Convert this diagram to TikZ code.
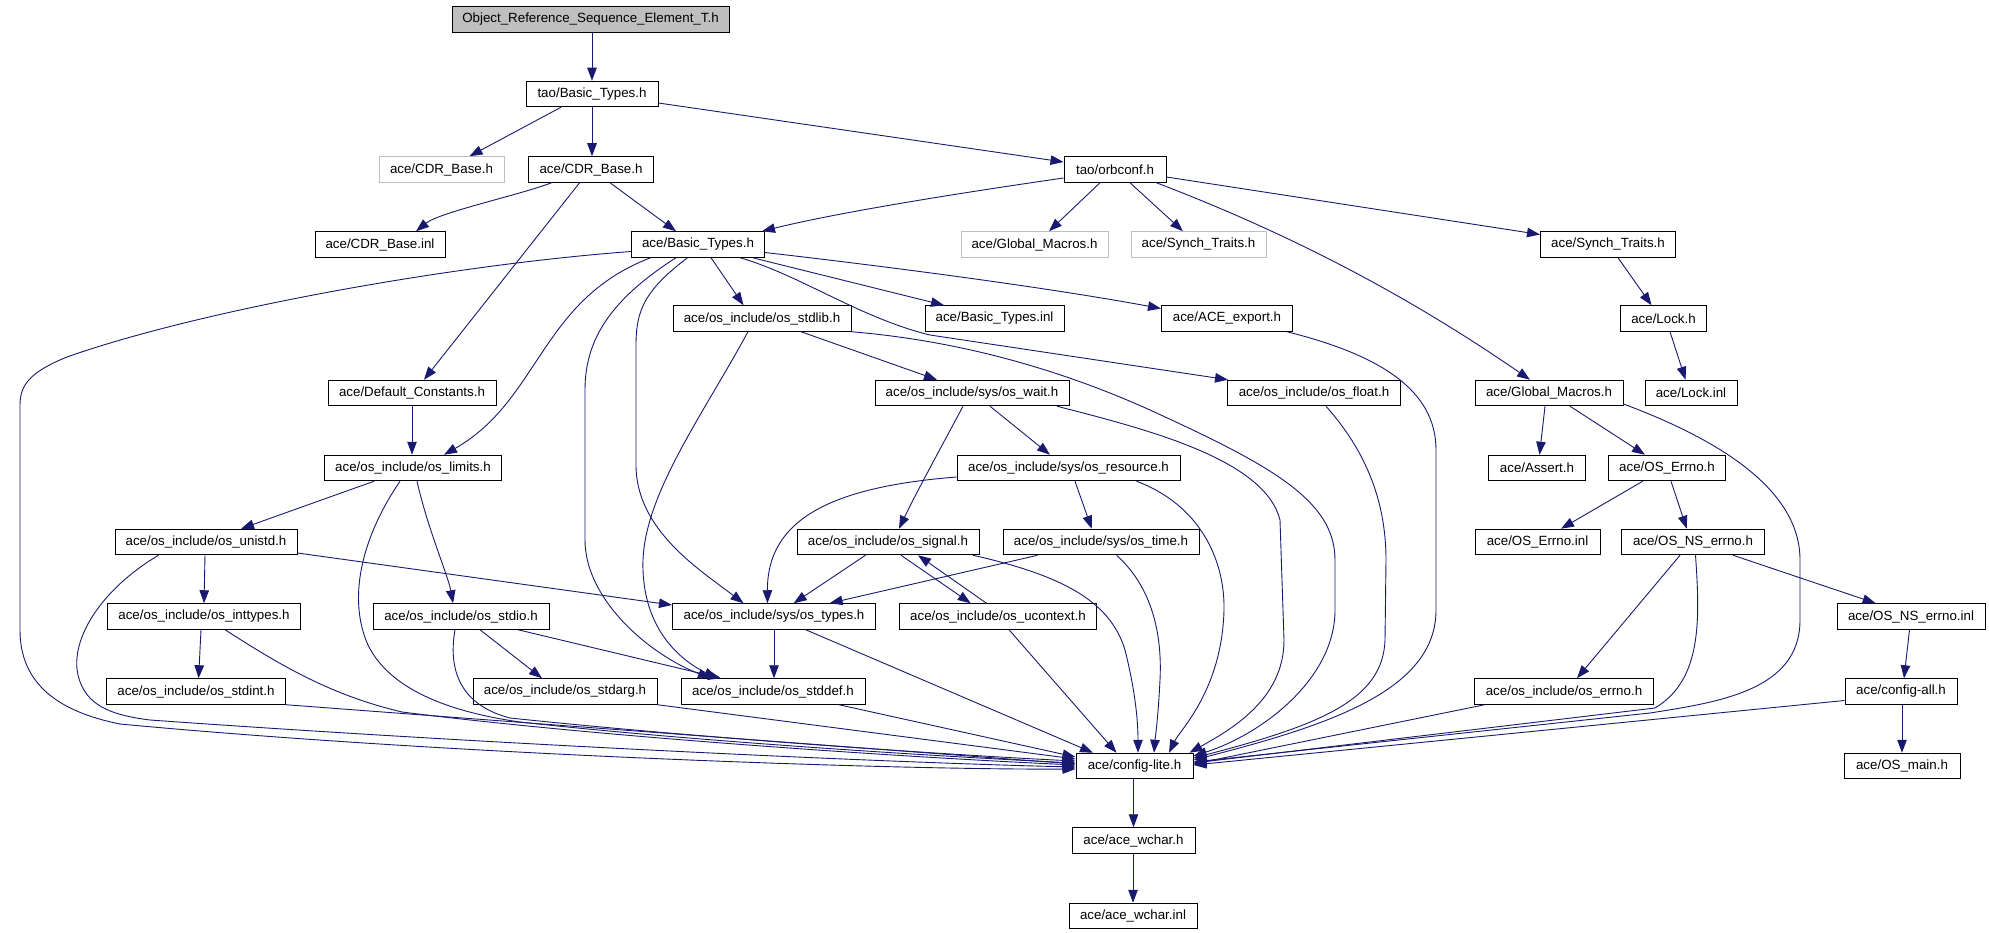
\documentclass[tikz,border=0pt]{standalone}
\usepackage{fontspec}
\setmainfont{Liberation Sans}
\usetikzlibrary{arrows.meta,calc}
\definecolor{edgecol}{HTML}{191970}
\definecolor{graybd}{HTML}{BFBFBF}
\begin{document}
\begin{tikzpicture}[x=1pt,y=-1pt,
  font=\fontsize{13.33}{16}\selectfont,
  box/.style={draw=black, line width=1pt, fill=white, minimum height=25.5pt, inner sep=0pt, anchor=center},
  gbox/.style={box, draw=graybd},
  rootbox/.style={box, fill=graybd},
  dep/.style={draw=edgecol, line width=0.9pt, -{Triangle[length=13pt,width=9.5pt]}}]
\fill[white] (0,0) rectangle (1989,933);
\useasboundingbox (0,0) rectangle (1989,933);
% nodes
\node[rootbox, minimum width=277pt] (obj) at (590.5,19.5) {Object\_Reference\_Sequence\_Element\_T.h};
\node[box, minimum width=132pt] (tbt) at (592,94) {tao/Basic\_Types.h};
\node[gbox, minimum width=125pt] (cdrg) at (441.5,169.5) {ace/CDR\_Base.h};
\node[box, minimum width=125pt] (cdr) at (591,169.5) {ace/CDR\_Base.h};
\node[box, minimum width=102pt] (orb) at (1115,169.5) {tao/orbconf.h};
\node[box, minimum width=130pt] (cdri) at (380,244.5) {ace/CDR\_Base.inl};
\node[box, minimum width=133pt] (abt) at (698,244.5) {ace/Basic\_Types.h};
\node[gbox, minimum width=147pt] (gmg) at (1034.5,244.5) {ace/Global\_Macros.h};
\node[gbox, minimum width=135pt] (stg) at (1198.5,244.5) {ace/Synch\_Traits.h};
\node[box, minimum width=135pt] (st) at (1608,244.5) {ace/Synch\_Traits.h};
\node[box, minimum width=178pt] (stdlib) at (762,318.5) {ace/os\_include/os\_stdlib.h};
\node[box, minimum width=139pt] (bti) at (994.5,318.5) {ace/Basic\_Types.inl};
\node[box, minimum width=131pt] (aex) at (1227,318.5) {ace/ACE\_export.h};
\node[box, minimum width=86pt] (lock) at (1663.5,318.5) {ace/Lock.h};
\node[box, minimum width=168pt] (defc) at (412,393) {ace/Default\_Constants.h};
\node[box, minimum width=194pt] (wait) at (972,393) {ace/os\_include/sys/os\_wait.h};
\node[box, minimum width=173pt] (flt) at (1314,393) {ace/os\_include/os\_float.h};
\node[box, minimum width=148pt] (gm) at (1549,393) {ace/Global\_Macros.h};
\node[box, minimum width=92pt] (locki) at (1691,393) {ace/Lock.inl};
\node[box, minimum width=177pt] (lim) at (413,468) {ace/os\_include/os\_limits.h};
\node[box, minimum width=223pt] (res) at (1068.5,468) {ace/os\_include/sys/os\_resource.h};
\node[box, minimum width=97pt] (assert) at (1537,468) {ace/Assert.h};
\node[box, minimum width=117pt] (errno) at (1667,468) {ace/OS\_Errno.h};
\node[box, minimum width=182pt] (unistd) at (206,542) {ace/os\_include/os\_unistd.h};
\node[box, minimum width=182pt] (sig) at (888,542) {ace/os\_include/os\_signal.h};
\node[box, minimum width=196pt] (time) at (1101,542) {ace/os\_include/sys/os\_time.h};
\node[box, minimum width=125pt] (errnoi) at (1537.5,542) {ace/OS\_Errno.inl};
\node[box, minimum width=143pt] (nserr) at (1693,542) {ace/OS\_NS\_errno.h};
\node[box, minimum width=193pt] (intt) at (204,616.5) {ace/os\_include/os\_inttypes.h};
\node[box, minimum width=176pt] (stdio) at (461,616.5) {ace/os\_include/os\_stdio.h};
\node[box, minimum width=203pt] (types) at (774,616.5) {ace/os\_include/sys/os\_types.h};
\node[box, minimum width=197pt] (uctx) at (998,616.5) {ace/os\_include/os\_ucontext.h};
\node[box, minimum width=148pt] (nsi) at (1911,616.5) {ace/OS\_NS\_errno.inl};
\node[box, minimum width=179pt] (stdint) at (196,691.5) {ace/os\_include/os\_stdint.h};
\node[box, minimum width=184pt] (stdarg) at (565,691.5) {ace/os\_include/os\_stdarg.h};
\node[box, minimum width=184pt] (stddef) at (773,691.5) {ace/os\_include/os\_stddef.h};
\node[box, minimum width=179pt] (oserr) at (1564,691.5) {ace/os\_include/os\_errno.h};
\node[box, minimum width=112pt] (call) at (1901,691.5) {ace/config-all.h};
\node[box, minimum width=117pt] (cl) at (1134.5,766) {ace/config-lite.h};
\node[box, minimum width=116pt] (osmain) at (1902,766) {ace/OS\_main.h};
\node[box, minimum width=123pt] (wch) at (1133.5,840.5) {ace/ace\_wchar.h};
\node[box, minimum width=128pt] (wchi) at (1133,916) {ace/ace\_wchar.inl};
% edges
\draw[dep] ([xshift=1.5pt]obj.south) -- (tbt.north);
\draw[dep] ([xshift=-31pt]tbt.south) -- ([xshift=28pt]cdrg.north);
\draw[dep] (tbt.south) -- ([xshift=1pt]cdr.north);
\draw[dep] ([yshift=-9pt]tbt.east) -- ([yshift=7.5pt]orb.west);
\draw[dep] ([xshift=-39.5pt]cdr.south) .. controls (520,195) and (440,212) .. ([xshift=36pt]cdri.north);
\draw[dep] ([xshift=19pt]cdr.south) -- ([xshift=-22pt]abt.north);
\draw[dep] ([xshift=-11.4pt]cdr.south) -- ([xshift=12pt]defc.north);
\draw[dep] ([yshift=-8.5pt]orb.west) .. controls (960,193) and (840,212) .. ([xshift=64pt]abt.north);
\draw[dep] ([xshift=-15pt]orb.south) -- ([xshift=14.5pt]gmg.north);
\draw[dep] ([xshift=15pt]orb.south) -- ([xshift=-15.5pt]stg.north);
\draw[dep] ([xshift=41.4pt]orb.south) .. controls (1280,230) and (1400,290) .. ([xshift=-19pt]gm.north);
\draw[dep] ([yshift=-7.5pt]orb.east) -- ([yshift=10pt]st.west);
\draw[dep] ([xshift=10pt]st.south) -- ([xshift=-12pt]lock.north);
\draw[dep] ([xshift=6.5pt]lock.south) -- ([xshift=-5.5pt]locki.north);
% ace/Basic_Types.h
\draw[dep] ([yshift=-7pt]abt.west) .. controls (450,265) and (200,310) .. (67,357) .. controls (30,372) and (20,385) .. (20,405) -- (20,630) .. controls (20,685) and (60,712) .. (120,724) .. controls (450,755) and (900,770) .. ([yshift=-3pt]cl.west);
\draw[dep] ([xshift=-47.4pt]abt.south) .. controls (540,300) and (540,400) .. ([xshift=31pt]lim.north);
\draw[dep] ([xshift=-22pt]abt.south) .. controls (610,300) and (585,340) .. (585,390) -- (585,540) .. controls (585,600) and (650,655) .. ([xshift=-62pt]stddef.north);
\draw[dep] ([xshift=-10.5pt]abt.south) .. controls (645,290) and (636,310) .. (636,345) -- (636,465) .. controls (636,530) and (700,570) .. ([xshift=-30.5pt]types.north);
\draw[dep] ([xshift=13pt]abt.south) -- ([xshift=-18.5pt]stdlib.north);
\draw[dep] ([xshift=42pt]abt.south) .. controls (800,275) and (860,318) .. (930,335) -- ([xshift=-86pt]flt.north);
\draw[dep] ([xshift=54.6pt]abt.south) -- ([xshift=-50.5pt]bti.north);
\draw[dep] ([yshift=-8pt]abt.east) .. controls (900,268) and (1050,288) .. ([yshift=10pt]aex.west);
% os_stdlib
\draw[dep] ([xshift=-14pt]stdlib.south) .. controls (700,420) and (640,500) .. (643,570) .. controls (645,630) and (680,660) .. ([xshift=-56pt]stddef.north);
\draw[dep] ([xshift=39pt]stdlib.south) -- ([xshift=-35pt]wait.north);
\draw[dep] (stdlib.south east) .. controls (950,340) and (1050,365) .. (1150,410) .. controls (1270,465) and (1335,500) .. (1335,560) -- (1335,610) .. controls (1335,680) and (1260,735) .. ([yshift=10pt]cl.east);
% defaults, wait, resource
\draw[dep] (defc.south) -- ([xshift=-1pt]lim.north);
\draw[dep] ([xshift=18pt]wait.south) -- ([xshift=-18.5pt]res.north);
\draw[dep] ([xshift=-9pt]wait.south) .. controls (945,440) and (915,495) .. ([xshift=11pt]sig.north);
\draw[dep] ([xshift=85pt]wait.south) .. controls (1150,430) and (1265,460) .. (1280,520) -- (1284,640) .. controls (1284,700) and (1230,730) .. ([xshift=55pt]cl.north);
\draw[dep] ([yshift=-9pt]res.west) .. controls (830,487) and (767,520) .. ([xshift=-6.5pt]types.north);
\draw[dep] ([xshift=6.5pt]res.south) -- ([xshift=-9.3pt]time.north);
\draw[dep] ([xshift=68pt]res.south) .. controls (1200,505) and (1225,560) .. (1224,610) .. controls (1222,690) and (1180,730) .. ([xshift=34.5pt]cl.north);
% os_limits
\draw[dep] ([xshift=-39pt]lim.south) -- ([xshift=35pt]unistd.north);
\draw[dep] ([xshift=4pt]lim.south) .. controls (428,530) and (448,575) .. ([xshift=-8pt]stdio.north);
\draw[dep] ([xshift=-13pt]lim.south) .. controls (360,540) and (348,600) .. (368,645) .. controls (390,690) and (450,712) .. (520,722) .. controls (700,742) and (950,757) .. ([yshift=3pt]cl.west);
% os_unistd, inttypes, stdint
\draw[dep] ([xshift=-1pt]unistd.south) -- (intt.north);
\draw[dep] ([yshift=-11pt]unistd.east) -- ([yshift=11.5pt]types.west);
\draw[dep] ([xshift=-47.5pt]unistd.south) .. controls (100,590) and (70,640) .. (78,675) .. controls (85,705) and (110,715) .. (150,720) .. controls (500,745) and (900,763) .. ([yshift=-1pt]cl.west);
\draw[dep] ([xshift=-3pt]intt.south) -- ([xshift=2.6pt]stdint.north);
\draw[dep] ([xshift=21pt]intt.south) .. controls (280,665) and (330,695) .. (402,712) .. controls (600,737) and (900,757) .. ([yshift=1pt]cl.west);
\draw[dep] (stdint.south east) -- ([yshift=2pt]cl.west);
% os_stdio, stdarg
\draw[dep] ([xshift=19pt]stdio.south) -- ([xshift=-23pt]stdarg.north);
\draw[dep] ([xshift=57pt]stdio.south) -- ([xshift=-52pt]stddef.north);
\draw[dep] ([xshift=-6pt]stdio.south) .. controls (448,670) and (460,705) .. (510,718) .. controls (700,738) and (950,755) .. ([yshift=5pt]cl.west);
\draw[dep] (stdarg.south east) -- ([yshift=7pt]cl.west);
% os_types, stddef
\draw[dep] (types.south) -- ([xshift=1pt]stddef.north);
\draw[dep] ([xshift=31.7pt]types.south) -- ([xshift=-41.5pt]cl.north);
\draw[dep] ([xshift=66pt]stddef.south) -- ([yshift=9pt]cl.west);
% os_signal, os_time, os_ucontext
\draw[dep] ([xshift=-22.5pt]sig.south) -- ([xshift=19.7pt]types.north);
\draw[dep] ([xshift=13pt]sig.south) -- ([xshift=-27.3pt]uctx.north);
\draw[dep] ([xshift=-11.5pt]uctx.north) -- ([xshift=30pt]sig.south);
\draw[dep] ([xshift=85pt]sig.south) .. controls (1060,575) and (1110,600) .. (1125,650) .. controls (1135,690) and (1138,720) .. ([xshift=3.5pt]cl.north);
\draw[dep] ([xshift=-63.4pt]time.south) -- ([xshift=55.6pt]types.north);
\draw[dep] ([xshift=15.6pt]time.south) .. controls (1155,590) and (1162,640) .. (1160,680) .. controls (1158,720) and (1155,740) .. ([xshift=19.5pt]cl.north);
\draw[dep] ([xshift=11pt]uctx.south) -- ([xshift=-18pt]cl.north);
% os_float, ACE_export
\draw[dep] ([xshift=12pt]flt.south) .. controls (1365,450) and (1386,500) .. (1386,560) -- (1385,640) .. controls (1383,700) and (1320,725) .. ([yshift=8pt]cl.east);
\draw[dep] ([xshift=60pt]aex.south) .. controls (1380,355) and (1436,390) .. (1436,450) -- (1436,610) .. controls (1436,690) and (1330,725) .. ([yshift=6pt]cl.east);
% Global_Macros and errno chain
\draw[dep] ([xshift=-4pt]gm.south) -- ([xshift=2.5pt]assert.north);
\draw[dep] ([xshift=21pt]gm.south) -- ([xshift=-22pt]errno.north);
\draw[dep] ([yshift=-11pt]gm.east) .. controls (1720,440) and (1800,490) .. (1800,560) -- (1800,620) .. controls (1800,690) and (1720,702) .. (1650,713) -- ([yshift=4pt]cl.east);
\draw[dep] ([xshift=-24.3pt]errno.south) -- ([xshift=23.5pt]errnoi.north);
\draw[dep] ([xshift=4pt]errno.south) -- ([xshift=-6.3pt]nserr.north);
\draw[dep] ([xshift=-13pt]nserr.south) -- ([xshift=13pt]oserr.north);
\draw[dep] ([xshift=2.5pt]nserr.south) .. controls (1700,620) and (1702,680) .. (1655,708) -- ([yshift=3pt]cl.east);
\draw[dep] ([xshift=40pt]nserr.south) -- ([xshift=-35.4pt]nsi.north);
\draw[dep] ([xshift=-1.5pt]nsi.south) -- ([xshift=3pt]call.north);
\draw[dep] ([xshift=1pt]call.south) -- (osmain.north);
\draw[dep] ([yshift=-9pt]call.west) -- ([yshift=1pt]cl.east);
\draw[dep] ([xshift=-79.4pt]oserr.south) -- ([yshift=2pt]cl.east);
% config-lite chain
\draw[dep] ([xshift=-1pt]cl.south) -- (wch.north);
\draw[dep] ([xshift=-0.5pt]wch.south) -- (wchi.north);
\end{tikzpicture}
\end{document}
